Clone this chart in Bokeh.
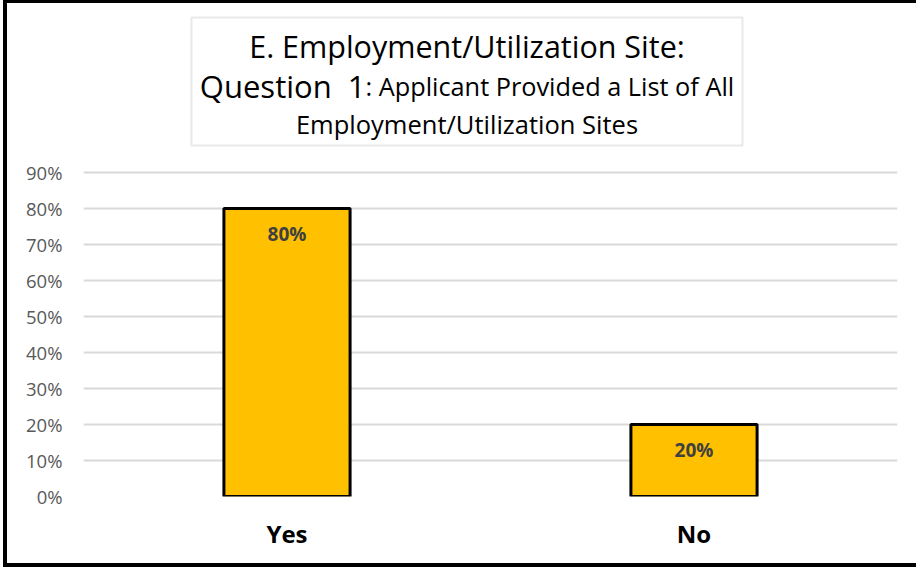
from bokeh.plotting import figure
from bokeh.models import (ColumnDataSource, FactorRange, Range1d, FixedTicker,
                          NumeralTickFormatter, Label, LabelSet, BoxAnnotation)
from bokeh.core.properties import value
from bokeh.embed import file_html
from bokeh.resources import INLINE

# ---- data ----
categories = ["Yes", "No"]
shares = [0.80, 0.20]
y_ticks = [0.0, 0.1, 0.2, 0.3, 0.4, 0.5, 0.6, 0.7, 0.8, 0.9]
title_line1 = "E. Employment/Utilization Site:"
title_line2a = "Question\u00a0\u00a01"
title_line2b = ": Applicant Provided a List of All"
title_line3 = "Employment/Utilization Sites"

FONT = "Open Sans"

src = ColumnDataSource(dict(cat=categories, val=shares,
                            lab=[f"{v:.0%}" for v in shares]))

# frame extends above the 90% line so the title box can live inside it
p = figure(x_range=FactorRange(*categories), y_range=Range1d(0, 1.36944),
           width=909, height=560, output_backend="svg", toolbar_location=None,
           min_border_left=76, min_border_right=19,
           min_border_top=0, min_border_bottom=67)
p.x_range.range_padding = 0
p.outline_line_color = None
p.background_fill_color = "white"
p.border_fill_color = "white"
# black frame around the chart (left, top, bottom), drawn outside the canvas
p.styles = {"margin-left": "7px", "margin-top": "3px",
            "box-shadow": "-4px 0 0 0 black, 0 -3px 0 0 black, "
                          "-4px -3px 0 0 black, 0 4px 0 0 black, -4px 4px 0 0 black"}

p.vbar(x="cat", top="val", width=0.31, source=src,
       fill_color="#FFC000", line_color="black", line_width=3)

# axes
p.yaxis.ticker = FixedTicker(ticks=y_ticks)
p.yaxis.formatter = NumeralTickFormatter(format="0%")
p.yaxis.axis_line_color = None
p.yaxis.major_tick_line_color = None
p.yaxis.minor_tick_line_color = None
p.yaxis.major_label_standoff = 15
p.yaxis.major_label_text_font = FONT
p.yaxis.major_label_text_font_size = "18.5px"
p.yaxis.major_label_text_color = "#595959"

p.xaxis.axis_line_color = None
p.xaxis.major_tick_line_color = None
p.xaxis.minor_tick_line_color = None
p.xaxis.major_label_standoff = 14
p.xaxis.major_label_text_font = FONT
p.xaxis.major_label_text_font_size = "24px"
p.xaxis.major_label_text_font_style = "bold"
p.xaxis.major_label_text_color = "black"

p.xgrid.grid_line_color = None
p.ygrid.grid_line_color = "#D9D9D9"
p.ygrid.grid_line_width = 2

# data labels
p.add_layout(LabelSet(x="cat", y="val", text="lab", source=src, y_offset=-26,
                      text_align="center", text_baseline="middle",
                      text_font=value(FONT), text_font_size="19px",
                      text_font_style="bold", text_color="#404040"))

# title box (screen units relative to the plot frame, y measured upward)
p.add_layout(BoxAnnotation(left=108, right=659, bottom=351, top=479,
                           left_units="screen", right_units="screen",
                           top_units="screen", bottom_units="screen",
                           fill_color="white", fill_alpha=1.0,
                           line_color="#B3B3B3", line_width=2))

cx = 383.5
p.add_layout(Label(x=cx, y=451, x_units="screen", y_units="screen",
                   text=title_line1, text_align="center", text_baseline="alphabetic",
                   text_font=FONT, text_font_size="30.5px", text_color="black"))
p.add_layout(Label(x=282, y=411, x_units="screen", y_units="screen",
                   text=title_line2a, text_align="right", text_baseline="alphabetic",
                   text_font=FONT, text_font_size="31px", text_color="black"))
p.add_layout(Label(x=282, y=411, x_units="screen", y_units="screen",
                   text=title_line2b, text_align="left", text_baseline="alphabetic",
                   text_font=FONT, text_font_size="25.3px", text_color="black"))
p.add_layout(Label(x=cx, y=373, x_units="screen", y_units="screen",
                   text=title_line3, text_align="center", text_baseline="alphabetic",
                   text_font=FONT, text_font_size="25.5px", text_color="black"))

open("out.html", "w").write(file_html(p, INLINE))
